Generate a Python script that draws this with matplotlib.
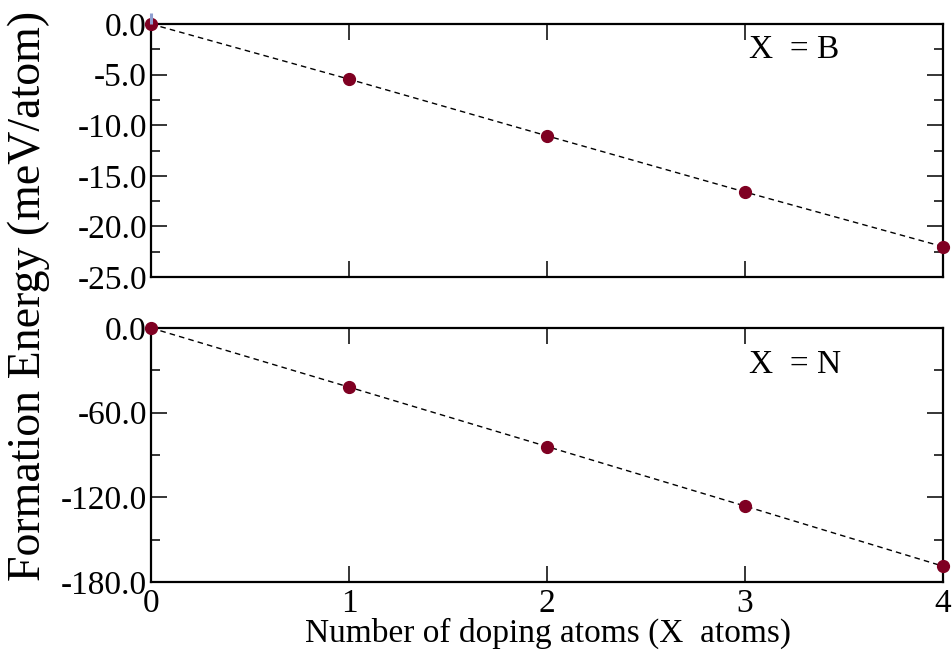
import matplotlib
matplotlib.use('Agg')
import matplotlib.pyplot as plt
from matplotlib.ticker import MultipleLocator, FormatStrFormatter

# dados
n_atoms = [0, 1, 2, 3, 4]
energia_B = [0.0, -5.45, -11.05, -16.6, -22.0]
energia_N = [0.0, -41.9, -84.0, -126.2, -168.8]
barra_B = 1.1  # pequeno traco azul acima do primeiro ponto (X = B)

cor_ponto = '#7f0022'
plt.rcParams['font.family'] = ['Liberation Serif', 'DejaVu Serif']
plt.rcParams['axes.unicode_minus'] = False

fig = plt.figure(figsize=(9.53, 6.51), dpi=100)
ax1 = fig.add_axes([0.1585, 0.5745, 0.831, 0.3886])
ax2 = fig.add_axes([0.1585, 0.1060, 0.831, 0.3902])


def estilo(ax, ymin, ymaj, ymin_step, fmt):
    ax.set_xlim(0, 4)
    ax.set_ylim(ymin, 0)
    ax.xaxis.set_major_locator(MultipleLocator(1))
    ax.yaxis.set_major_locator(MultipleLocator(ymaj))
    ax.yaxis.set_minor_locator(MultipleLocator(ymin_step))
    ax.yaxis.set_major_formatter(FormatStrFormatter(fmt))
    ax.tick_params(which='both', direction='in', top=True, right=True,
                   labelsize=24, width=1.1)
    ax.tick_params(which='major', length=11.5)
    ax.tick_params(which='minor', length=6.5)
    ax.tick_params(axis='y', pad=3)
    ax.tick_params(axis='x', pad=5)
    for s in ax.spines.values():
        s.set_linewidth(1.6)


# painel superior: X = B
ax1.plot(n_atoms, energia_B, ls=(0, (4, 3)), color='black', lw=1.0, zorder=2)
ax1.plot(n_atoms, energia_B, 'o', color=cor_ponto, ms=8.5, clip_on=False, zorder=3)
ax1.vlines(n_atoms[0], energia_B[0], energia_B[0] + barra_B, color='#8f9fd0',
           lw=2.2, clip_on=False, zorder=4)
estilo(ax1, -25, 5, 2.5, '%.1f')
ax1.tick_params(labelbottom=False)
ax1.text(0.755, 0.90, 'X  = B', transform=ax1.transAxes, fontsize=24,
         ha='left', va='center')

# painel inferior: X = N
ax2.plot(n_atoms, energia_N, ls=(0, (4, 3)), color='black', lw=1.0, zorder=2)
ax2.plot(n_atoms, energia_N, 'o', color=cor_ponto, ms=8.5, clip_on=False, zorder=3)
estilo(ax2, -180, 60, 30, '%.1f')
ax2.text(0.755, 0.855, 'X  = N', transform=ax2.transAxes, fontsize=24,
         ha='left', va='center')

fig.text(0.030, 0.545, 'Formation Energy (meV/atom)', rotation=90,
         fontsize=33, ha='center', va='center')
fig.text(0.575, 0.027, 'Number of doping atoms (X  atoms)', fontsize=24,
         ha='center', va='center')

fig.savefig('out.png', dpi=100)
